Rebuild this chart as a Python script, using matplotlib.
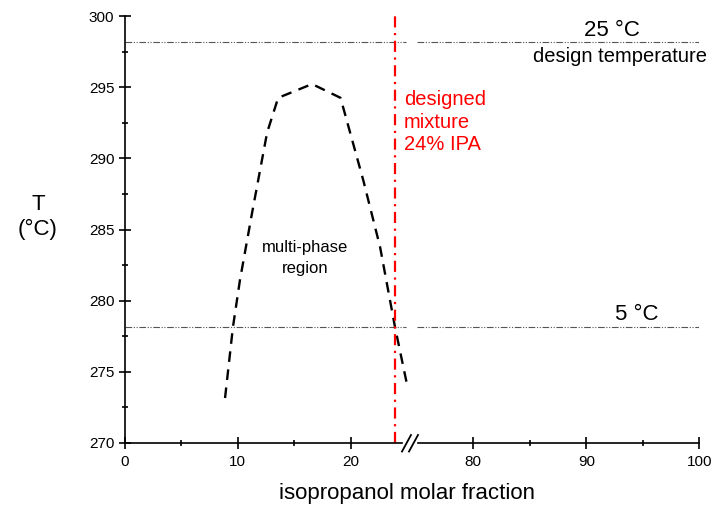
import numpy as np
import matplotlib
matplotlib.use('Agg')
import matplotlib.pyplot as plt
from matplotlib.lines import Line2D
from matplotlib.transforms import IdentityTransform

plt.rcParams['font.family'] = ['Liberation Sans', 'DejaVu Sans']

# curva da região multifásica (fração molar de IPA, T em K)
x_curva = [8.88, 9.58, 10.2, 11.27, 12.6, 13.58, 16.58, 19.1, 21.11, 22.6, 23.92, 24.96]
t_curva = [273.16, 278.15, 281.45, 286.16, 291.8, 294.25, 295.22, 294.25, 288.47, 283.77, 278.15, 274.2]

t_design = [298.15, 278.15]
rotulos_t = ['25 °C', '5 °C']
x_mistura = 23.9

xticks = [0, 10, 20, 80, 90, 100]
xminor = [5, 15, 85, 95]

# eixo x quebrado entre 25 e ~74
desloc = 49.15

W, H = 714, 507


def fwd(x):
    x = np.asarray(x, dtype=float)
    return np.where(x <= 25, x, np.where(x >= 25 + desloc, x - desloc, 25.0))


def inv(y):
    y = np.asarray(y, dtype=float)
    return np.where(y <= 25, y, y + desloc)


def px(x, y):
    # pixel (origem no topo) -> display
    return x, H - y


fig = plt.figure(figsize=(W / 100, H / 100), dpi=100)
ax = fig.add_axes([124.7 / W, 1 - 443 / H, (699.3 - 124.7) / W, (443 - 16) / H])
ax.set_xscale('function', functions=(fwd, inv))
ax.set_xlim(0, 100)
ax.set_ylim(270, 300)

# linhas de temperatura de projeto
estilo_t = dict(color='#555555', lw=0.8, ls=(0, (6, 1.5, 1, 1.5, 1, 1.5)))
for t in t_design:
    ax.plot([0, 24.9], [t, t], **estilo_t)
    ax.plot([75.0, 100], [t, t], **estilo_t)

ax.plot(x_curva, t_curva, color='black', lw=1.7, ls=(0, (4.5, 3.2)), clip_on=False)
ax.axvline(x_mistura, color='red', lw=1.6, ls=(0, (5, 2.5, 1, 2.5)))

tr = IdentityTransform()
ax.text(*px(612, 30), rotulos_t[0], transform=tr, fontsize=16, ha='center', va='center')
ax.text(*px(620, 56), 'design temperature', transform=tr, fontsize=14.5, ha='center', va='center')
ax.text(*px(637, 314), rotulos_t[1], transform=tr, fontsize=16, ha='center', va='center')
ax.text(*px(305, 258), 'multi-phase\nregion', transform=tr, fontsize=12, ha='center', va='center',
        linespacing=1.5)
ax.text(*px(404, 122), 'designed\nmixture\n24% IPA', transform=tr, fontsize=14.5, color='red',
        ha='left', va='center', linespacing=1.22)

ax.spines['top'].set_visible(False)
ax.spines['right'].set_visible(False)
ax.spines['bottom'].set_visible(False)
ax.spines['left'].set_linewidth(1.2)

# eixo inferior em dois pedaços
ax.plot([0, 24.5], [270, 270], color='black', lw=1.2, clip_on=False)
ax.plot([75.1, 100], [270, 270], color='black', lw=1.2, clip_on=False)
for cx in [406.5, 413.5]:
    x0, y0 = px(cx - 4.5, 451.5)
    x1, y1 = px(cx + 4.5, 435)
    fig.add_artist(Line2D([x0, x1], [y0, y1], transform=tr, color='black', lw=1.3))

ax.set_xticks(xticks)
ax.set_xticks(xminor, minor=True)
ax.set_xticklabels([str(v) for v in xticks])
ax.set_yticks(np.arange(270, 301, 5))
ax.set_yticks(np.arange(272.5, 300, 5), minor=True)
ax.tick_params(which='major', direction='inout', length=8, width=1.2, labelsize=11)
ax.tick_params(which='minor', direction='inout', length=5, width=1.2)
ax.tick_params(axis='x', pad=5)

fig.text(38 / W, 1 - 217 / H, 'T\n(°C)', fontsize=16, ha='center', va='center')
fig.text(407 / W, 1 - 494 / H, 'isopropanol molar fraction', fontsize=16, ha='center', va='center')

fig.savefig('out.png', dpi=100)
